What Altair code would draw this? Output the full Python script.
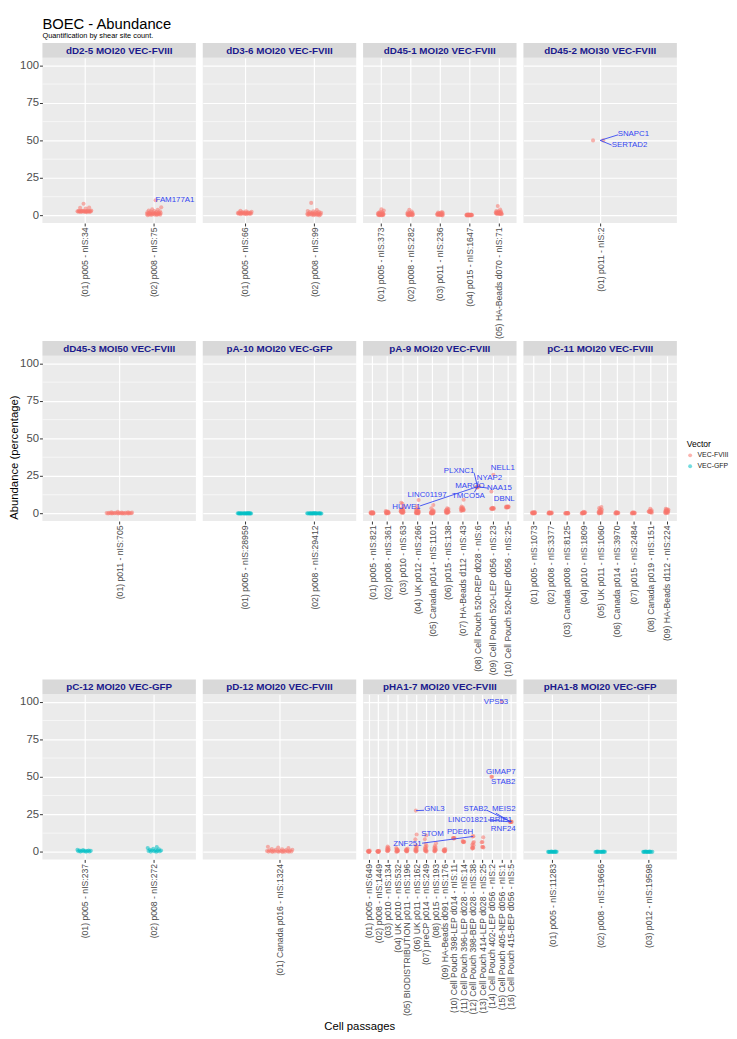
import altair as alt
import pandas as pd

FONT = "Liberation Sans"
W, H, STRIP = 156, 168, 15
TITLE_BLOCK = 27
FVIII_COL, GFP_COL = "#F8766D", "#00BFC4"
LABEL_BLUE = "#3446F2"
STRIP_TEXT = "#1a1a8c"

main_title = "BOEC - Abundance"
main_subtitle = "Quantification by shear site count."
x_title = "Cell passages"
y_title = "Abundance (percentage)"

major_y = [0, 25, 50, 75, 100]
minor_y = [12.5, 37.5, 62.5, 87.5]
vector_names = ["VEC-FVIII", "VEC-GFP"]

# ---------------- panels (facets) ----------------
panel_names = [
    "dD2-5 MOI20 VEC-FVIII", "dD3-6 MOI20 VEC-FVIII", "dD45-1 MOI20 VEC-FVIII", "dD45-2 MOI30 VEC-FVIII",
    "dD45-3 MOI50 VEC-FVIII", "pA-10 MOI20 VEC-GFP", "pA-9 MOI20 VEC-FVIII", "pC-11 MOI20 VEC-FVIII",
    "pC-12 MOI20 VEC-GFP", "pD-12 MOI20 VEC-FVIII", "pHA1-7 MOI20 VEC-FVIII", "pHA1-8 MOI20 VEC-GFP",
]
panel_vectors = [
    "VEC-FVIII", "VEC-FVIII", "VEC-FVIII", "VEC-FVIII",
    "VEC-FVIII", "VEC-GFP", "VEC-FVIII", "VEC-FVIII",
    "VEC-GFP", "VEC-FVIII", "VEC-FVIII", "VEC-GFP",
]

# ---------------- categories (cell passages) ----------------
dD2_5_cats = ["(01) p005 - nIS:34", "(02) p008 - nIS:75"]
dD3_6_cats = ["(01) p005 - nIS:66", "(02) p008 - nIS:99"]
dD45_1_cats = ["(01) p005 - nIS:373", "(02) p008 - nIS:282", "(03) p011 - nIS:236",
               "(04) p015 - nIS:1647", "(05) HA-Beads d070 - nIS:71"]
dD45_2_cats = ["(01) p011 - nIS:2"]
dD45_3_cats = ["(01) p011 - nIS:705"]
pA_10_cats = ["(01) p005 - nIS:28959", "(02) p008 - nIS:29412"]
pA_9_cats = ["(01) p005 - nIS:821", "(02) p008 - nIS:361", "(03) p010 - nIS:63", "(04) UK p012 - nIS:266",
             "(05) Canada p014 - nIS:1101", "(06) p015 - nIS:138", "(07) HA-Beads d112 - nIS:43",
             "(08) Cell Pouch 520-REP d028 - nIS:6", "(09) Cell Pouch 520-LEP d056 - nIS:23",
             "(10) Cell Pouch 520-NEP d056 - nIS:25"]
pC_11_cats = ["(01) p005 - nIS:1073", "(02) p008 - nIS:3377", "(03) Canada p008 - nIS:8125",
              "(04) p010 - nIS:1809", "(05) UK p011 - nIS:1060", "(06) Canada p014 - nIS:3970",
              "(07) p015 - nIS:2484", "(08) Canada p019 - nIS:151", "(09) HA-Beads d112 - nIS:224"]
pC_12_cats = ["(01) p005 - nIS:237", "(02) p008 - nIS:272"]
pD_12_cats = ["(01) Canada p016 - nIS:1324"]
pHA1_7_cats = ["(01) p005 - nIS:649", "(02) p008 - nIS:1449", "(03) p010 - nIS:134", "(04) UK p010 - nIS:532",
               "(05) BIODISTRIBUTION p011 - nIS:196", "(06) UK p011 - nIS:162", "(07) preCP p014 - nIS:249",
               "(08) p015 - nIS:193", "(09) HA-Beads d091 - nIS:176", "(10) Cell Pouch 398-LEP d014 - nIS:11",
               "(11) Cell Pouch 396-LEP d028 - nIS:14", "(12) Cell Pouch 398-BEP d028 - nIS:38",
               "(13) Cell Pouch 414-LEP d028 - nIS:25", "(14) Cell Pouch 402-LEP d056 - nIS:2",
               "(15) Cell Pouch 405-NEP d056 - nIS:1", "(16) Cell Pouch 415-BEP d056 - nIS:5"]
pHA1_8_cats = ["(01) p005 - nIS:11283", "(02) p008 - nIS:19666", "(03) p012 - nIS:19598"]

# ---------------- abundance values (percentage), one list per category ----------------
dD2_5_vals = [
    [2.2, 2.3, 2.4, 2.5, 2.5, 2.6, 2.6, 2.7, 2.7, 2.8, 2.8, 2.9, 2.9, 2.9, 3.0, 3.0, 3.0, 3.1, 3.1, 3.2,
     3.3, 4.6, 5.2, 5.3, 7.8],
    [0.2, 0.3, 0.4, 0.5, 0.6, 0.7, 0.8, 0.9, 1.0, 1.0, 1.1, 1.2, 1.3, 1.3, 1.4, 1.5, 1.6, 1.7, 1.8, 1.9,
     2.0, 2.2, 2.4, 2.6, 2.8, 3.0, 3.3, 3.8, 4.2, 5.5, 10.1],
]
dD3_6_vals = [
    [0.8, 0.9, 1.0, 1.1, 1.2, 1.3, 1.3, 1.4, 1.4, 1.5, 1.5, 1.6, 1.6, 1.7, 1.8, 1.9, 2.0, 2.1, 2.2, 2.4,
     2.5, 2.8, 3.2],
    [0.1, 0.2, 0.3, 0.4, 0.5, 0.6, 0.7, 0.8, 0.9, 1.0, 1.0, 1.1, 1.2, 1.3, 1.4, 1.5, 1.6, 1.8, 1.9, 2.1,
     2.3, 2.5, 2.8, 3.0, 3.6, 8.4],
]
dD45_1_vals = [
    [0.1, 0.2, 0.3, 0.3, 0.4, 0.5, 0.5, 0.6, 0.7, 0.8, 0.9, 1.0, 1.1, 1.2, 1.4, 1.5, 1.7, 1.8, 2.1, 2.4,
     3.4, 4.2],
    [0.1, 0.2, 0.3, 0.4, 0.5, 0.5, 0.6, 0.7, 0.8, 1.0, 1.1, 1.2, 1.4, 1.5, 1.7, 1.9, 2.2, 2.6, 3.9],
    [0.1, 0.2, 0.3, 0.4, 0.5, 0.6, 0.7, 0.8, 0.9, 1.0, 1.2, 1.3, 1.5, 1.6, 1.8, 2.0, 2.3],
    [0.0, 0.05, 0.1, 0.1, 0.15, 0.2, 0.2, 0.25, 0.3, 0.3, 0.35, 0.4, 0.45, 0.5, 0.6, 0.7, 0.8],
    [0.8, 1.0, 1.1, 1.2, 1.3, 1.4, 1.4, 1.5, 1.5, 1.6, 1.7, 1.8, 1.9, 2.0, 2.2, 2.3, 2.6, 2.8, 3.0,
     4.0, 6.3],
]
dD45_2_vals = [[50.0, 50.0]]
dD45_3_vals = [[0.0, 0.05, 0.05, 0.1, 0.1, 0.1, 0.15, 0.15, 0.2, 0.2, 0.25, 0.25, 0.3, 0.3, 0.35, 0.4,
                0.4, 0.45, 0.5, 0.55, 0.6, 0.7, 0.8, 0.9, 1.2]]
pA_10_vals = [
    [0.0, 0.01, 0.02, 0.03, 0.04, 0.05, 0.06, 0.07, 0.08, 0.1, 0.11, 0.12, 0.14, 0.15, 0.18, 0.2, 0.22,
     0.25, 0.3],
    [0.0, 0.01, 0.02, 0.03, 0.04, 0.05, 0.06, 0.07, 0.08, 0.1, 0.11, 0.12, 0.14, 0.15, 0.18, 0.2, 0.22,
     0.25, 0.35],
]
pA_9_vals = [
    [0.0, 0.05, 0.1, 0.15, 0.2, 0.25, 0.3, 0.35, 0.4, 0.5, 0.6, 0.7, 0.8, 1.0],
    [0.1, 0.2, 0.3, 0.4, 0.5, 0.6, 0.7, 0.8, 1.0, 1.1, 1.3, 1.6],
    [0.4, 0.6, 0.8, 1.0, 1.1, 1.2, 1.4, 1.5, 1.6, 1.8, 2.0, 2.2, 2.4, 2.8, 3.3, 4.6, 6.5, 7.2],
    [0.1, 0.2, 0.3, 0.4, 0.5, 0.6, 0.7, 0.9, 1.0, 1.1, 1.2, 1.4, 1.7, 2.0, 2.4, 2.9, 3.5, 5.0, 9.0],
    [0.0, 0.1, 0.2, 0.3, 0.4, 0.5, 0.6, 0.8, 0.9, 1.0, 1.2, 1.3, 1.7, 2.2, 3.5, 5.7],
    [0.3, 0.5, 0.7, 0.9, 1.0, 1.1, 1.3, 1.5, 1.6, 1.8, 2.1, 2.5, 3.0, 3.5],
    [1.8, 2.0, 2.2, 2.4, 2.5, 2.8, 3.0, 3.3, 3.6, 4.0, 4.6, 9.2],
    [18.0, 17.6, 17.9, 17.2, 18.3, 17.8],
    [3.0, 3.1, 3.2, 3.3, 3.4, 3.5, 3.6, 3.8, 14.7, 25.8],
    [4.0, 4.1, 4.2, 4.3, 4.4, 4.5, 4.6, 4.8],
]
pC_11_vals = [
    [0.0, 0.1, 0.2, 0.3, 0.35, 0.4, 0.5, 0.6, 0.7, 0.8, 1.0],
    [0.0, 0.05, 0.1, 0.15, 0.2, 0.3, 0.35, 0.4, 0.5, 0.6, 0.7, 0.9],
    [0.0, 0.05, 0.1, 0.15, 0.2, 0.25, 0.3, 0.4, 0.5],
    [0.0, 0.1, 0.2, 0.3, 0.35, 0.4, 0.5, 0.6, 0.7, 0.9, 1.1],
    [0.0, 0.2, 0.4, 0.5, 0.6, 0.8, 1.0, 1.2, 1.3, 1.6, 2.0, 2.5, 3.0, 3.6, 4.4],
    [0.0, 0.1, 0.2, 0.3, 0.4, 0.5, 0.6, 0.7, 1.0],
    [0.0, 0.1, 0.2, 0.3, 0.4, 0.5, 0.6, 0.8],
    [0.6, 0.8, 1.0, 1.1, 1.2, 1.4, 1.6, 1.9, 2.2, 3.2],
    [0.2, 0.4, 0.6, 0.8, 1.0, 1.2, 1.3, 1.6, 1.8, 1.9, 2.2, 2.5, 2.8, 3.1],
]
pC_12_vals = [
    [0.1, 0.2, 0.3, 0.4, 0.5, 0.55, 0.6, 0.7, 0.8, 0.9, 1.0, 1.2, 1.5],
    [0.1, 0.2, 0.4, 0.5, 0.6, 0.7, 0.9, 1.0, 1.1, 1.4, 1.7, 2.1, 2.6, 3.2],
]
pD_12_vals = [[0.0, 0.05, 0.1, 0.1, 0.2, 0.2, 0.3, 0.3, 0.4, 0.4, 0.5, 0.5, 0.6, 0.7, 0.8, 0.9, 1.0, 1.1,
               1.2, 1.4, 1.5, 1.8, 2.0, 2.6, 3.0, 3.5]]
pHA1_7_vals = [
    [0.0, 0.1, 0.2, 0.3, 0.4, 0.5, 0.7, 0.9],
    [0.0, 0.1, 0.2, 0.3, 0.4, 0.5, 0.6, 0.8],
    [0.5, 0.8, 1.0, 1.3, 1.6, 2.0, 2.5, 3.0, 3.6],
    [0.1, 0.3, 0.5, 0.7, 0.9, 1.2, 1.5, 2.0, 2.6],
    [0.3, 0.5, 0.7, 0.9, 1.1, 1.4, 1.8, 2.2],
    [0.2, 0.5, 0.8, 1.1, 1.5, 2.0, 2.6, 3.3, 4.5, 8.4, 11.6, 27.5],
    [0.2, 0.5, 0.8, 1.1, 1.5, 2.0, 2.6, 3.3, 4.0, 5.2, 8.4, 11.0],
    [0.3, 0.6, 0.9, 1.2, 1.6, 2.0, 2.6, 3.2, 4.0, 5.8],
    [0.3, 0.5, 0.7, 0.9, 1.1, 1.3, 1.6, 2.0],
    [9.1, 9.1, 9.2, 9.0, 9.3],
    [6.4, 6.6, 6.8, 7.0, 7.2],
    [10.5, 10.3, 6.6, 6.0, 4.8, 4.5, 3.0, 2.8, 2.6, 2.2],
    [9.7, 6.6, 6.4, 3.4, 3.2, 3.0],
    [50.0, 50.0],
    [100.0],
    [20.0, 20.0, 20.0, 20.0, 20.0],
]
pHA1_8_vals = [
    [0.0, 0.01, 0.02, 0.04, 0.05, 0.06, 0.08, 0.1, 0.12, 0.15, 0.2, 0.3],
    [0.0, 0.01, 0.02, 0.04, 0.05, 0.06, 0.08, 0.1, 0.12, 0.15, 0.2, 0.3],
    [0.0, 0.01, 0.02, 0.04, 0.05, 0.06, 0.08, 0.1, 0.12, 0.15, 0.2, 0.3],
]

panel_cats = [dD2_5_cats, dD3_6_cats, dD45_1_cats, dD45_2_cats, dD45_3_cats, pA_10_cats,
              pA_9_cats, pC_11_cats, pC_12_cats, pD_12_cats, pHA1_7_cats, pHA1_8_cats]
panel_vals = [dD2_5_vals, dD3_6_vals, dD45_1_vals, dD45_2_vals, dD45_3_vals, pA_10_vals,
              pA_9_vals, pC_11_vals, pC_12_vals, pD_12_vals, pHA1_7_vals, pHA1_8_vals]

# ---------------- gene labels (the labelled integration sites) ----------------
gene_panel = ["dD2-5 MOI20 VEC-FVIII", "dD45-2 MOI30 VEC-FVIII", "dD45-2 MOI30 VEC-FVIII"] + \
             ["pA-9 MOI20 VEC-FVIII"] * 9 + ["pHA1-7 MOI20 VEC-FVIII"] * 12
gene_name = ["FAM177A1", "SNAPC1", "SERTAD2",
             "PLXNC1", "NYAP2", "MARCO", "NAA15", "TMCO5A", "HUWE1", "LINC01197", "NELL1", "DBNL",
             "VPS53", "GIMAP7", "STAB2", "STAB2", "MEIS2", "LINC01821", "BRIP1", "RNF24",
             "GNL3", "STOM", "PDE6H", "ZNF251"]
gene_cat = [2, 1, 1,
            8, 8, 8, 8, 8, 8, 4, 9, 10,
            15, 14, 14, 16, 16, 16, 16, 16, 6, 6, 12, 12]
gene_val = [10.1, 50.0, 50.0,
            17.9, 17.9, 17.9, 17.9, 17.9, 17.9, 9.0, 25.8, 4.5,
            100.0, 50.0, 50.0, 20.0, 20.0, 20.0, 20.0, 20.0, 27.5, 11.6, 10.5, 10.3]

# repelled label placement (x in category units, y in percentage) and segment ends
label_x = [2.30, 1.26, 1.23,
           6.78, 8.80, 7.50, 9.46, 7.40, 3.28, 4.65, 9.69, 9.78,
           14.42, 14.94, 15.20, 12.29, 15.25, 11.46, 14.94, 15.20, 7.93, 7.72, 10.63, 5.07]
label_y = [10.1, 54.0, 46.9,
           28.2, 23.7, 18.6, 16.7, 11.5, 4.5, 12.2, 30.1, 9.6,
           100.0, 53.5, 46.5, 28.4, 28.4, 21.3, 21.3, 15.5, 28.4, 11.6, 13.5, 5.2]
seg_x = [None, 1.14, 1.09,
         7.79, 8.05, None, 8.72, 7.80, 4.19, None, None, None,
         None, None, None, 13.48, 14.42, 13.59, None, None, 6.84, None, None, 6.63]
seg_y = [None, 53.7, 46.9,
         26.9, 21.5, None, 16.9, 14.2, 5.1, None, None, None,
         None, None, None, 27.7, 25.8, 21.3, None, None, 27.7, None, None, 5.8]

genes = pd.DataFrame({"panel": gene_panel, "gene": gene_name, "cat": gene_cat, "val": gene_val,
                      "lx": label_x, "ly": label_y, "sx": seg_x, "sy": seg_y})

ys = alt.Scale(domain=[-5, 105], nice=False, zero=False)
color_scale = alt.Scale(domain=vector_names, range=[FVIII_COL, GFP_COL])
LEGEND_PANEL = 7  # legend drawn beside "pC-11"


def make_panel(i):
    name = panel_names[i]
    cats = panel_cats[i]
    vals = panel_vals[i]
    vec = panel_vectors[i]
    row, col = divmod(i, 4)
    n = len(cats)

    recs = []
    for ci, vl in enumerate(vals, start=1):
        for v in vl:
            recs.append({"cat": ci, "val": v, "vector": vec})
    pts = pd.DataFrame(recs)

    xs = alt.Scale(domain=[0.4, n + 0.6], nice=False, zero=False)
    label_expr = "[" + ",".join("'%s'" % c for c in cats) + "][datum.value - 1]"
    xaxis = alt.Axis(values=list(range(1, n + 1)), labelExpr=label_expr, labelAngle=-90,
                     labelFontSize=8.8, labelColor="#4D4D4D", labelPadding=1, labelOverlap=False,
                     labelFlush=False, labelLimit=400, tickSize=3, tickColor="#333333", domain=False,
                     grid=True, gridColor="white", gridWidth=1.2, title=None)

    if col == 0:
        ykw = dict(values=major_y, labelFontSize=11.5, labelColor="#4D4D4D", labelPadding=1,
                   tickSize=3, tickColor="#333333", domain=False, grid=True, gridColor="white",
                   gridWidth=1.2, title=y_title, titleFontSize=11.5,
                   titleFontWeight="normal", titleColor="black", titlePadding=0)
        if row == 1:
            ykw.update(titleY=H / 2 + 19)
        else:
            ykw.update(titleOpacity=0)
        yaxis = alt.Axis(**ykw)
    else:
        yaxis = alt.Axis(values=major_y, labels=False, ticks=False, domain=False, grid=True,
                         gridColor="white", gridWidth=1.2, title=None)

    if i == LEGEND_PANEL:
        legend = alt.Legend(title="Vector", orient="none", legendX=W + 10, legendY=86,
                            titleFontSize=8.7, titleFontWeight="normal", titleColor="black",
                            labelFontSize=7, labelColor="#1a1a1a", symbolType="circle",
                            symbolSize=16, rowPadding=3, titlePadding=3, padding=0)
    else:
        legend = None

    minor = alt.Chart(pd.DataFrame({"y": minor_y})).mark_rule(
        color="white", strokeWidth=0.6
    ).encode(y=alt.Y("y:Q", scale=ys, axis=yaxis))

    points = alt.Chart(pts).transform_window(
        rn="row_number()"
    ).transform_calculate(
        xj="datum.cat + (((datum.rn * 0.6180339887) % 1) - 0.5) * 0.21"
    ).mark_circle(size=17, opacity=0.55).encode(
        x=alt.X("xj:Q", scale=xs, axis=xaxis),
        y=alt.Y("val:Q", scale=ys, axis=yaxis),
        color=alt.Color("vector:N", scale=color_scale, legend=legend),
    )

    strip_df = pd.DataFrame({"strip": [name]})
    strip_bg = alt.Chart(strip_df).mark_rect(color="#D9D9D9").encode(
        x=alt.value(0), x2=alt.value(W), y=alt.value(-STRIP), y2=alt.value(0)
    )
    strip_txt = alt.Chart(strip_df).mark_text(
        fontSize=10, fontWeight="bold", color=STRIP_TEXT, baseline="middle", align="center"
    ).encode(x=alt.value(W / 2), y=alt.value(-STRIP / 2 + 0.5), text="strip:N")

    layers = [strip_bg, strip_txt, minor, points]

    if row == 0:
        # reserve the same head room above every first-row panel for the figure title
        layers.append(alt.Chart(strip_df).mark_rect(opacity=0).encode(
            x=alt.value(0), x2=alt.value(W), y=alt.value(-STRIP - TITLE_BLOCK), y2=alt.value(-STRIP)))
        if col == 0:
            tdf = pd.DataFrame({"t": [main_title], "s": [main_subtitle]})
            layers.append(alt.Chart(tdf).mark_text(
                fontSize=15, color="black", align="left", baseline="alphabetic"
            ).encode(x=alt.value(0), y=alt.value(-STRIP - 14.5), text="t:N"))
            layers.append(alt.Chart(tdf).mark_text(
                fontSize=7.5, color="black", align="left", baseline="alphabetic"
            ).encode(x=alt.value(0), y=alt.value(-STRIP - 5.5), text="s:N"))

    g = genes[genes["panel"] == name]
    if len(g):
        segs = g.dropna(subset=["sx"])
        if len(segs):
            layers.append(alt.Chart(segs).mark_rule(color=LABEL_BLUE, strokeWidth=0.9).encode(
                x=alt.X("cat:Q", scale=xs, axis=xaxis), x2="sx:Q",
                y=alt.Y("val:Q", scale=ys, axis=yaxis), y2="sy:Q"))
        layers.append(alt.Chart(g[["gene", "lx", "ly"]]).mark_text(
            color=LABEL_BLUE, fontSize=8, align="center", baseline="middle"
        ).encode(x=alt.X("lx:Q", scale=xs, axis=xaxis), y=alt.Y("ly:Q", scale=ys, axis=yaxis),
                 text="gene:N"))

    return alt.layer(*layers).properties(width=W, height=H)


rows = []
for r in range(3):
    kw = {}
    if r == 2:
        kw["title"] = alt.TitleParams(text=x_title, orient="bottom", anchor="middle", fontSize=11.5,
                                      fontWeight="normal", color="black", offset=6, dx=17)
    rows.append(alt.hconcat(*[make_panel(r * 4 + c) for c in range(4)], spacing=5, **kw)
                .resolve_scale(color="independent"))

chart = alt.vconcat(*rows, spacing=2).resolve_scale(color="independent").properties(
    padding=0
).configure(font=FONT).configure_view(fill="#EBEBEB", strokeWidth=0)

chart.save("out.html", embed_options={"renderer": "svg", "actions": False})
